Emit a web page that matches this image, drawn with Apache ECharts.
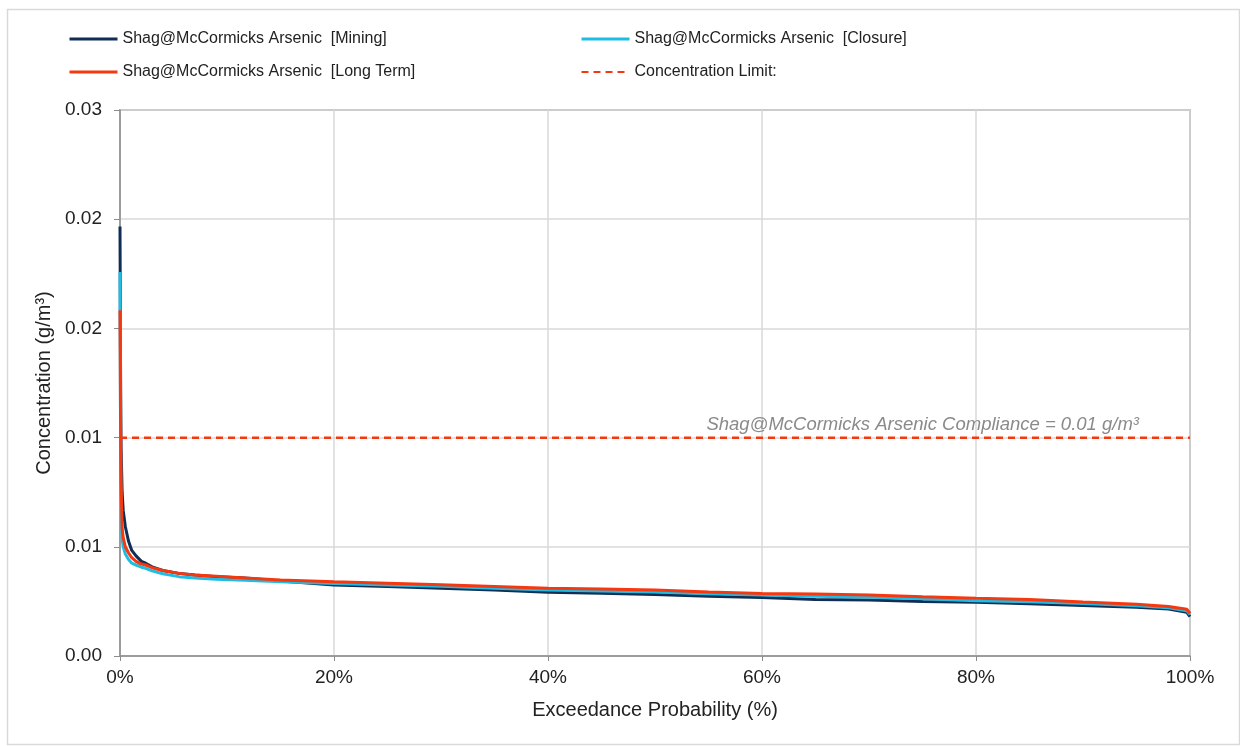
<!DOCTYPE html>
<html>
<head>
<meta charset="utf-8">
<script src="https://cdn.jsdelivr.net/npm/echarts@6/dist/echarts.min.js"></script>
<style>
html,body{margin:0;padding:0;background:#fff;}
#chart{width:1240px;height:746px;}
</style>
</head>
<body>
<div id="chart"></div>
<script>
// Exceedance probability (%)
const probability = [0, 0.05, 0.1, 0.2, 0.3, 0.5, 0.8, 1.1, 1.5, 2, 2.4, 3, 4, 5.5, 7, 9, 11.7, 15, 20, 25, 30, 35, 40, 45, 50, 55, 60, 65, 70, 75, 80, 85, 90, 95, 98, 99.7, 100];
const mining = [0.0236, 0.016, 0.0115, 0.0090, 0.0080, 0.0071, 0.0063, 0.0058, 0.0055, 0.0052, 0.0051, 0.0049, 0.0047, 0.00454, 0.00445, 0.00435, 0.00428, 0.00412, 0.0039, 0.00382, 0.00372, 0.00362, 0.0035, 0.00345, 0.00338, 0.00328, 0.00322, 0.0031, 0.00308, 0.003, 0.00295, 0.00287, 0.00278, 0.00268, 0.00258, 0.0024, 0.00216];
const closure = [0.0211, 0.012, 0.0085, 0.0064, 0.0060, 0.0056, 0.0053, 0.0051, 0.0050, 0.00488, 0.00482, 0.00468, 0.00452, 0.00436, 0.00428, 0.00422, 0.00416, 0.00408, 0.00398, 0.0039, 0.00383, 0.00372, 0.00362, 0.00357, 0.00351, 0.00342, 0.00335, 0.00328, 0.00323, 0.00315, 0.00304, 0.00298, 0.00288, 0.00276, 0.00265, 0.00248, 0.00228];
const longTerm = [0.0190, 0.013, 0.0095, 0.0070, 0.0065, 0.0060, 0.00566, 0.0054, 0.0052, 0.00505, 0.0050, 0.00485, 0.0047, 0.00454, 0.00445, 0.00438, 0.00428, 0.00418, 0.00408, 0.004, 0.00392, 0.00382, 0.00372, 0.00368, 0.00362, 0.00352, 0.00344, 0.0034, 0.00335, 0.00325, 0.00317, 0.0031, 0.00297, 0.00285, 0.00272, 0.00257, 0.00235];
const limitValue = 0.012;
const limitLabel = 'Shag@McCormicks Arsenic Compliance = 0.01 g/m³';
const seriesNames = ['Shag@McCormicks Arsenic  [Mining]', 'Shag@McCormicks Arsenic  [Closure]', 'Shag@McCormicks Arsenic  [Long Term]', 'Concentration Limit:'];

const FONT = '"Liberation Sans", Arial, sans-serif';
const pair = (ys) => probability.map((p, i) => [p, ys[i]]);
const NAVY = '#0f2d55', CYAN = '#1fbde3', RED = '#f5380f';

const legendCommon = {
  orient: 'vertical', top: 26,
  itemWidth: 48, itemHeight: 14, itemGap: 17,
  itemStyle: {opacity: 0},
  textStyle: {fontSize: 16, color: '#222', fontFamily: FONT}
};

const chart = echarts.init(document.getElementById('chart'), null, {renderer: 'canvas'});
chart.setOption({
  animation: false,
  textStyle: {fontFamily: FONT},
  graphic: [{
    type: 'rect', left: 5, top: 7, silent: true,
    shape: {width: 1232, height: 735},
    style: {fill: 'none', stroke: '#d9d9d9', lineWidth: 1.5}
  }],
  legend: [
    Object.assign({data: [
      {name: seriesNames[0], lineStyle: {width: 3, color: NAVY}},
      {name: seriesNames[2], lineStyle: {width: 3, color: RED}}
    ], left: 63}, legendCommon),
    Object.assign({data: [
      {name: seriesNames[1], lineStyle: {width: 3, color: CYAN}},
      {name: seriesNames[3], lineStyle: {width: 2, color: RED, type: [7, 5]}}
    ], left: 575}, legendCommon)
  ],
  grid: {left: 120, right: 50, top: 110, bottom: 90, show: true, borderColor: '#8c8c8c', borderWidth: 1.5},
  xAxis: {
    type: 'value', min: 0, max: 100, interval: 20,
    name: 'Exceedance Probability (%)', nameLocation: 'middle', nameGap: 44,
    nameTextStyle: {fontSize: 20, color: '#222', fontFamily: FONT},
    axisLine: {show: true, onZero: false, lineStyle: {color: '#8c8c8c', width: 1.5}},
    axisTick: {show: true, length: 5, lineStyle: {color: '#8c8c8c'}},
    axisLabel: {formatter: '{value}%', fontSize: 19, color: '#222', margin: 12, fontFamily: FONT},
    splitLine: {show: true, lineStyle: {color: '#d9d9d9', width: 1.5}}
  },
  yAxis: {
    type: 'value', min: 0, max: 0.03, interval: 0.006,
    name: 'Concentration (g/m³)', nameLocation: 'middle', nameGap: 61,
    nameTextStyle: {fontSize: 20, color: '#222', fontFamily: FONT},
    axisLine: {show: true, lineStyle: {color: '#8c8c8c', width: 1.5}},
    axisTick: {show: true, length: 6, lineStyle: {color: '#8c8c8c'}},
    axisLabel: {formatter: v => v.toFixed(2), fontSize: 19, color: '#222', margin: 18, fontFamily: FONT},
    splitLine: {show: true, lineStyle: {color: '#d9d9d9', width: 1.5}}
  },
  series: [{
    name: seriesNames[0], type: 'line', data: pair(mining), showSymbol: false, symbol: 'none',
    lineStyle: {color: NAVY, width: 3}, itemStyle: {color: NAVY}
  }, {
    name: seriesNames[1], type: 'line', data: pair(closure), showSymbol: false, symbol: 'none',
    lineStyle: {color: CYAN, width: 3}, itemStyle: {color: CYAN}
  }, {
    name: seriesNames[2], type: 'line', data: pair(longTerm), showSymbol: false, symbol: 'none',
    lineStyle: {color: RED, width: 3}, itemStyle: {color: RED}
  }, {
    name: seriesNames[3], type: 'line', data: [[0, limitValue], [100, limitValue]], showSymbol: false, symbol: 'none',
    lineStyle: {color: RED, width: 2, type: [7, 5]}, itemStyle: {color: RED},
    markLine: {
      silent: true, symbol: 'none', precision: 6,
      lineStyle: {color: RED, width: 2, type: [7, 5]},
      label: {show: true, position: 'insideEndTop', distance: 3, padding: [0, 48, 0, 0], formatter: limitLabel,
        color: '#8a8a8a', fontStyle: 'italic', fontSize: 18.5, fontFamily: FONT},
      data: [{yAxis: limitValue}]
    }
  }]
});
</script>
</body>
</html>
